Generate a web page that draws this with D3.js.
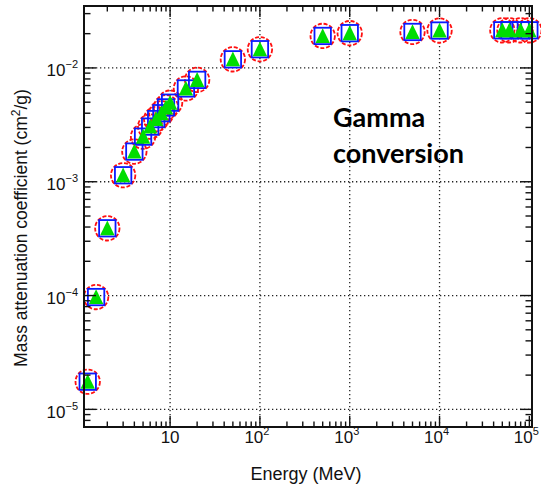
<!DOCTYPE html>
<html>
<head>
<meta charset="utf-8">
<script src="https://cdn.jsdelivr.net/npm/d3@7/dist/d3.min.js"></script>
<style>
  html, body { margin: 0; padding: 0; background: #fff; }
  svg { display: block; }
  text { font-family: "Liberation Sans", Arial, Helvetica, sans-serif; fill: #111; }
</style>
</head>
<body>
<svg id="chart" width="541" height="492"></svg>
<script>
// ---- data ----
const energies = [1.21, 1.5, 2, 3, 4, 5, 6, 7, 8, 9, 10, 15, 20, 50, 100, 500, 1000, 5000, 10000, 50000, 60000, 80000, 100000];
const seriesCircle   = [1.75e-5, 9.7e-5, 3.9e-4, 1.14e-3, 1.84e-3, 2.49e-3, 3.05e-3, 3.55e-3, 4.0e-3, 4.5e-3, 4.95e-3, 6.6e-3, 7.85e-3, 1.19e-2, 1.46e-2, 1.91e-2, 2.02e-2, 2.07e-2, 2.13e-2, 2.14e-2, 2.14e-2, 2.14e-2, 2.14e-2];
const seriesSquare   = [1.75e-5, 9.7e-5, 3.9e-4, 1.14e-3, 1.84e-3, 2.49e-3, 3.05e-3, 3.55e-3, 4.0e-3, 4.5e-3, 4.95e-3, 6.6e-3, 7.85e-3, 1.19e-2, 1.46e-2, 1.91e-2, 2.02e-2, 2.07e-2, 2.13e-2, 2.14e-2, 2.14e-2, 2.14e-2, 2.14e-2];
const seriesTriangle = [1.75e-5, 9.7e-5, 3.9e-4, 1.14e-3, 1.84e-3, 2.49e-3, 3.05e-3, 3.55e-3, 4.0e-3, 4.5e-3, 4.95e-3, 6.6e-3, 7.85e-3, 1.19e-2, 1.46e-2, 1.91e-2, 2.02e-2, 2.07e-2, 2.13e-2, 2.14e-2, 2.14e-2, 2.14e-2, 2.14e-2];
const xMajorTicks = [10, 100, 1000, 10000, 100000];
const xTickLabels = [["10", ""], ["10", "2"], ["10", "3"], ["10", "4"], ["10", "5"]];
const yMajorTicks = [1e-5, 1e-4, 1e-3, 1e-2];
const yTickLabels = [["10", "\u22125"], ["10", "\u22124"], ["10", "\u22123"], ["10", "\u22122"]];
const xTitle = "Energy (MeV)";
const yTitleMain = "Mass attenuation coefficient (cm";
const yTitleSup = "2";
const yTitleEnd = "/g)";
const annotation = ["Gamma", "conversion"];

// ---- layout ----
const L = 84, R = 532, T = 6, B = 427;
const svg = d3.select("#chart");
const x = d3.scaleLog().domain([1.1, 1.07e5]).range([L, R]);
const y = d3.scaleLog().domain([7.0e-6, 0.035]).range([B, T]);

function minors(scale) {
  const [a, b] = scale.domain();
  const out = [];
  for (let e = Math.floor(Math.log10(a)); e <= Math.ceil(Math.log10(b)); e++) {
    for (let m = 2; m <= 9; m++) {
      const v = m * Math.pow(10, e);
      if (v > a * 1.001 && v < b * 0.999) out.push(v);
    }
  }
  return out;
}

// grid
const grid = svg.append("g").attr("stroke", "#222").attr("stroke-width", 1.3).attr("stroke-dasharray", "1.3,2.7");
grid.selectAll("line.vx").data(xMajorTicks.filter(v => v < 1e5)).enter().append("line")
  .attr("x1", d => x(d)).attr("x2", d => x(d)).attr("y1", T).attr("y2", B);
grid.selectAll("line.hy").data(yMajorTicks).enter().append("line")
  .attr("x1", L).attr("x2", R).attr("y1", d => y(d)).attr("y2", d => y(d));

// markers
const pts = (vals) => energies.map((e, i) => ({ e, v: vals[i] }));
svg.append("g").selectAll("circle").data(pts(seriesCircle)).enter().append("circle")
  .attr("cx", d => x(d.e)).attr("cy", d => y(d.v)).attr("r", 12.2)
  .attr("fill", "none").attr("stroke", "#ff1010").attr("stroke-width", 1.8).attr("stroke-dasharray", "4,1.8");
svg.append("g").selectAll("rect").data(pts(seriesSquare)).enter().append("rect")
  .attr("x", d => x(d.e) - 8.2).attr("y", d => y(d.v) - 8.2).attr("width", 16.4).attr("height", 16.4)
  .attr("fill", "none").attr("stroke", "#0a1aff").attr("stroke-width", 1.8);
svg.append("g").selectAll("path").data(pts(seriesTriangle)).enter().append("path")
  .attr("d", d => {
    const cx = x(d.e), cy = y(d.v);
    return `M${cx - 7.2},${cy + 7} L${cx + 7.2},${cy + 7} L${cx},${cy - 7.8} Z`;
  })
  .attr("fill", "#00dd00");

// axes frame + ticks
const ax = svg.append("g").attr("stroke", "#111");
ax.append("rect").attr("x", L).attr("y", T).attr("width", R - L).attr("height", B - T)
  .attr("fill", "none").attr("stroke-width", 2);
const tk = ax.append("g").attr("stroke-width", 1.4);
xMajorTicks.forEach(v => {
  tk.append("line").attr("x1", x(v)).attr("x2", x(v)).attr("y1", B).attr("y2", B - 11);
  tk.append("line").attr("x1", x(v)).attr("x2", x(v)).attr("y1", T).attr("y2", T + 11);
});
minors(x).forEach(v => {
  tk.append("line").attr("x1", x(v)).attr("x2", x(v)).attr("y1", B).attr("y2", B - 5.5);
  tk.append("line").attr("x1", x(v)).attr("x2", x(v)).attr("y1", T).attr("y2", T + 5.5);
});
yMajorTicks.forEach(v => {
  tk.append("line").attr("y1", y(v)).attr("y2", y(v)).attr("x1", L).attr("x2", L + 12);
  tk.append("line").attr("y1", y(v)).attr("y2", y(v)).attr("x1", R).attr("x2", R - 12);
});
minors(y).forEach(v => {
  tk.append("line").attr("y1", y(v)).attr("y2", y(v)).attr("x1", L).attr("x2", L + 6.5);
  tk.append("line").attr("y1", y(v)).attr("y2", y(v)).attr("x1", R).attr("x2", R - 6.5);
});

// x tick labels
xMajorTicks.forEach((v, i) => {
  const [base, sup] = xTickLabels[i];
  const t = svg.append("text").attr("x", x(v) + (sup ? -3 : 0)).attr("y", 443)
    .attr("text-anchor", "middle").attr("font-size", 17);
  t.append("tspan").text(base);
  if (sup) t.append("tspan").attr("font-size", 11).attr("dy", -8).text(sup);
});
// y tick labels
yMajorTicks.forEach((v, i) => {
  const [base, sup] = yTickLabels[i];
  const t = svg.append("text").attr("x", 78).attr("y", y(v) + 8.5)
    .attr("text-anchor", "end").attr("font-size", 17);
  t.append("tspan").text(base);
  t.append("tspan").attr("font-size", 11).attr("dy", -8).text(sup);
});

// axis titles
svg.append("text").attr("x", 306).attr("y", 480).attr("text-anchor", "middle")
  .attr("font-size", 18).text(xTitle);
const yt = svg.append("text").attr("transform", "translate(27,228) rotate(-90)")
  .attr("text-anchor", "middle").attr("font-size", 17.5);
yt.append("tspan").text(yTitleMain);
yt.append("tspan").attr("font-size", 12).attr("dy", -7).text(yTitleSup);
yt.append("tspan").attr("dy", 7).text(yTitleEnd);

// annotation
const an = svg.append("text")
  .attr("font-weight", "bold").attr("font-size", 27)
  .style("font-family", "Lato, 'Open Sans', sans-serif").style("fill", "#000");
an.append("tspan").attr("x", 333).attr("y", 127).text(annotation[0]);
an.append("tspan").attr("x", 333).attr("y", 163).text(annotation[1]);
</script>
</body>
</html>
